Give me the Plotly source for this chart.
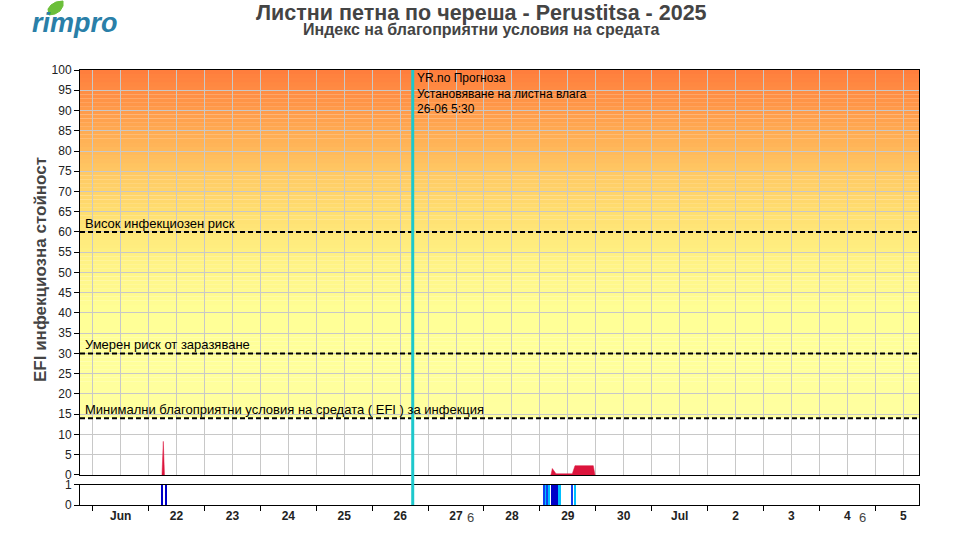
import base64
import plotly.graph_objects as go

# ---------------- data ----------------
efi_spike_times = ["2025-06-22 05:45", "2025-06-22 06:19", "2025-06-22 06:49"]
efi_spike_values = [0, 8.3, 0]

efi_late_times = ["2025-06-29 04:30", "2025-06-29 04:46", "2025-06-29 05:20", "2025-06-29 06:55",
                  "2025-06-29 13:55", "2025-06-29 15:04", "2025-06-29 22:55", "2025-06-29 23:39"]
efi_late_values = [0, 0, 1.6, 0.3, 0.3, 2.3, 2.3, 0]

wet_times = ["2025-06-22 05:58", "2025-06-22 07:41",
             "2025-06-29 01:58", "2025-06-29 02:44", "2025-06-29 03:22", "2025-06-29 04:07",
             "2025-06-29 06:14", "2025-06-29 08:25", "2025-06-29 14:06", "2025-06-29 14:58"]
wet_minutes = [41, 41, 52, 39, 39, 52, 201, 62, 39, 64]
wet_levels = ["dark", "dark", "blue", "light", "blue", "light", "dark", "light", "blue", "light"]

thresholds = [60, 30, 14]
threshold_labels = ["Висок инфекциозен риск", "Умерен риск от заразяване",
                    "Минимални благоприятни условия на средата ( EFI ) за инфекция"]

forecast_time = "2025-06-26 17:24"
forecast_text = "YR.no Прогноза<br>Установяване на листна влага<br>26-06 5:30"

tick_times = ["2025-06-21 12:00", "2025-06-22 12:00", "2025-06-23 12:00", "2025-06-24 12:00",
              "2025-06-25 12:00", "2025-06-26 12:00", "2025-06-27 12:00", "2025-06-28 12:00",
              "2025-06-29 12:00", "2025-06-30 12:00", "2025-07-01 12:00", "2025-07-02 12:00",
              "2025-07-03 12:00", "2025-07-04 12:00", "2025-07-05 12:00"]
tick_labels = ["Jun", "22", "23", "24", "25", "26", "27", "28", "29", "30", "Jul", "2", "3", "4", "5"]
extra_label_times = ["2025-06-27 18:25", "2025-07-04 18:43"]
extra_labels = ["6", "6"]

x_range = ["2025-06-20 18:33", "2025-07-05 18:46"]

# ---------------- styling ----------------
FONT = "Liberation Sans, Arial, sans-serif"
GRID = "#c8c8c8"
level_colors = {"dark": "#0000c8", "blue": "#1040f0", "light": "#00bfff"}

fig = go.Figure()

fig.add_trace(go.Scatter(x=efi_spike_times, y=efi_spike_values, mode="lines", fill="tozeroy",
                         line=dict(color="#dc143c", width=0.5), fillcolor="#dc143c",
                         xaxis="x", yaxis="y", hoverinfo="skip", showlegend=False))
fig.add_trace(go.Scatter(x=efi_late_times, y=efi_late_values, mode="lines", fill="tozeroy",
                         line=dict(color="#dc143c", width=0.5), fillcolor="#dc143c",
                         xaxis="x", yaxis="y", hoverinfo="skip", showlegend=False))

fig.add_trace(go.Bar(x=wet_times, y=[1] * len(wet_times),
                     width=[m * 60000 for m in wet_minutes],
                     marker=dict(color=[level_colors[l] for l in wet_levels], line=dict(width=0)),
                     xaxis="x2", yaxis="y2", hoverinfo="skip", showlegend=False))

shapes = []
# gradient background from 14 to 100
stops = [(14, (255, 255, 160)), (40, (255, 255, 150)), (55, (255, 240, 130)), (65, (255, 222, 112)),
         (75, (255, 200, 100)), (85, (255, 170, 82)), (100, (255, 125, 60))]


def col_at(v):
    for (a, ca), (b, cb) in zip(stops[:-1], stops[1:]):
        if a <= v <= b:
            f = (v - a) / (b - a)
            return "rgb(%d,%d,%d)" % tuple(round(ca[i] + f * (cb[i] - ca[i])) for i in range(3))
    return "rgb(255,125,60)"


v = 14.0
while v < 100:
    shapes.append(dict(type="rect", xref="x domain", yref="y", x0=0, x1=1, y0=v, y1=min(v + 1.02, 100),
                       fillcolor=col_at(v + 0.5), line=dict(width=0), layer="below"))
    v += 1

for thr in thresholds:
    shapes.append(dict(type="line", xref="x domain", yref="y", x0=0, x1=1, y0=thr, y1=thr,
                       line=dict(color="black", width=2, dash="5px,3px"), layer="above"))

shapes.append(dict(type="line", xref="x", yref="paper", x0=forecast_time, x1=forecast_time, y0=0, y1=1,
                   line=dict(color="#1ec8cc", width=3), layer="above"))


# logo leaf (decoration): pixel -> paper helper
def pxx(xp):
    return (xp - 80) / 839.0


def pxy(yp):
    return (505 - yp) / 435.0


leaf_pts = [(49, 15), (48, 9), (51, 5), (56, 2), (63, 1), (63, 6), (60, 11), (55, 14)]
leaf_path = "M " + " L ".join("%.5f,%.5f" % (pxx(a), pxy(b)) for a, b in leaf_pts) + " Z"
shapes.append(dict(type="path", xref="paper", yref="paper", path=leaf_path,
                   fillcolor="#6cbf3a", line=dict(color="#6cbf3a", width=1), layer="above"))

leaf_svg = ('<svg xmlns="http://www.w3.org/2000/svg" width="16" height="16" viewBox="0 0 16 16">'
            '<path d="M1.5 15 C0 7 6 1.5 15 1 C15 9 9.5 14.5 1.5 15 Z" fill="#6cbf3a"/></svg>')
leaf_src = "data:image/svg+xml;base64," + base64.b64encode(leaf_svg.encode()).decode()
images = [dict(source=leaf_src, xref="paper", yref="paper", x=pxx(47), y=pxy(0),
               sizex=16 / 839.0, sizey=16 / 435.0, xanchor="left", yanchor="top", sizing="stretch",
               layer="above")]

annotations = []
for thr, lab in zip(thresholds, threshold_labels):
    annotations.append(dict(xref="x domain", yref="y", x=0.004, y=thr, text=lab, showarrow=False,
                            xanchor="left", yanchor="bottom", yshift=-1,
                            font=dict(family=FONT, size=13, color="black")))

annotations.append(dict(xref="x", yref="y", x=forecast_time, y=100, text=forecast_text, showarrow=False,
                        xanchor="left", yanchor="top", align="left", xshift=2, yshift=1,
                        font=dict(family=FONT, size=12, color="black")))

for t, lab in zip(extra_label_times, extra_labels):
    annotations.append(dict(xref="x", yref="paper", x=t, y=0, yshift=-12, text=lab, showarrow=False,
                            xanchor="center", yanchor="middle",
                            font=dict(family=FONT, size=13, color="#444444")))

annotations.append(dict(xref="paper", yref="paper", x=0.479, y=pxy(13),
                        text="<b>Листни петна по череша - Perustitsa - 2025</b>", showarrow=False,
                        xanchor="center", yanchor="middle", font=dict(family=FONT, size=21.5, color="#444444")))
annotations.append(dict(xref="paper", yref="paper", x=0.479, y=pxy(30),
                        text="<b>Индекс на благоприятни условия на средата</b>", showarrow=False,
                        xanchor="center", yanchor="middle", font=dict(family=FONT, size=16, color="#444444")))
annotations.append(dict(xref="paper", yref="paper", x=pxx(40), y=pxy(270),
                        text="<b>EFI инфекциозна стойност</b>", showarrow=False, textangle=-90,
                        xanchor="center", yanchor="middle", font=dict(family=FONT, size=17, color="#444444")))
annotations.append(dict(xref="paper", yref="paper", x=pxx(75), y=pxy(23),
                        text="<b><i>rimpro</i></b>", showarrow=False,
                        xanchor="center", yanchor="middle", font=dict(family=FONT, size=27, color="#2a7fa8")))

fig.update_layout(
    width=960, height=535,
    margin=dict(l=80, r=41, t=70, b=30),
    paper_bgcolor="white", plot_bgcolor="white",
    font=dict(family=FONT, size=12, color="#222222"),
    showlegend=False,
    shapes=shapes, annotations=annotations, images=images,
    xaxis=dict(domain=[0, 1], anchor="y", type="date", range=x_range,
               showgrid=True, gridcolor=GRID, gridwidth=1, dtick=43200000, tick0="2025-06-21",
               showticklabels=False, ticks="", showline=True, mirror=True, linecolor="black", linewidth=1,
               zeroline=False),
    yaxis=dict(domain=[0.069, 1], anchor="x", range=[0, 100], dtick=5, tick0=0,
               showgrid=True, gridcolor=GRID, gridwidth=1, ticks="outside", ticklen=5, tickcolor="black",
               showline=True, mirror=True, linecolor="black", linewidth=1, zeroline=False,
               tickfont=dict(family=FONT, size=12, color="#222222")),
    xaxis2=dict(domain=[0, 1], anchor="y2", type="date", matches="x", range=x_range,
                tickmode="array", tickvals=tick_times, ticktext=["<b>%s</b>" % s for s in tick_labels],
                ticks="outside", ticklen=0, showgrid=False,
                minor=dict(ticks="outside", ticklen=5, tickcolor="black", dtick=86400000,
                           tick0="2025-06-21", showgrid=False),
                showline=True, mirror=True, linecolor="black", linewidth=1, zeroline=False,
                tickfont=dict(family=FONT, size=12, color="#222222")),
    yaxis2=dict(domain=[0, 0.046], anchor="x2", range=[0, 1], tickmode="array", tickvals=[0, 1],
                ticks="outside", ticklen=5, tickcolor="black", showgrid=False,
                showline=True, mirror=True, linecolor="black", linewidth=1, zeroline=False,
                tickfont=dict(family=FONT, size=12, color="#222222")),
    bargap=0,
)

fig.write_html("out.html", config={"displayModeBar": False},
               post_script="document.body.style.margin='0';document.body.style.overflow='hidden';")
